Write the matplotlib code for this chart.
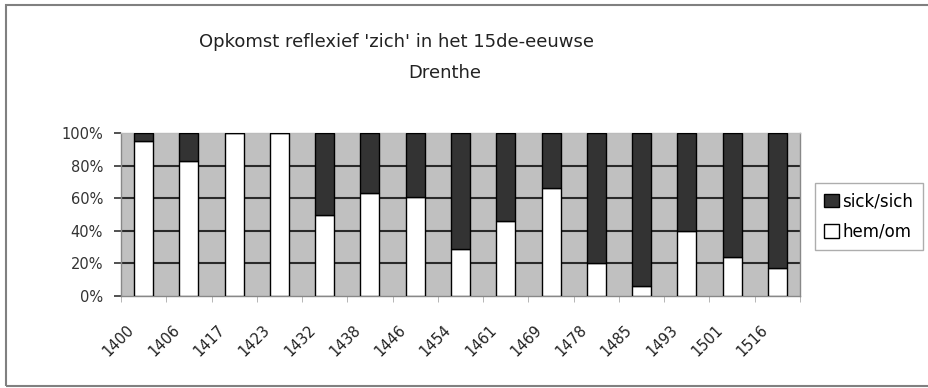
import matplotlib.pyplot as plt
from matplotlib.patches import Rectangle
import matplotlib.transforms as mtransforms
import numpy as np

years = ['1400', '1406', '1417', '1423', '1432', '1438', '1446', '1454',
         '1461', '1469', '1478', '1485', '1493', '1501', '1516']
# share of hem/om per year (percent), rest is sick/sich
hem_om = [95, 83, 100, 100, 50, 63, 61, 29, 46, 66, 20, 6, 40, 24, 17]
sick_sich = [100 - v for v in hem_om]

plt.rcParams['font.family'] = 'DejaVu Sans'

fig = plt.figure(figsize=(9.29, 3.88), dpi=100)
ax = fig.add_axes([121 / 929, 1 - 296 / 388, 679 / 929, 163 / 388])

x = np.arange(len(years))
w = 0.42
b1 = ax.bar(x, hem_om, width=w, color='white', edgecolor='black', linewidth=1.0, zorder=3,
            label='hem/om')
b2 = ax.bar(x, sick_sich, width=w, bottom=hem_om, color='#333333', edgecolor='black',
            linewidth=1.0, zorder=3, label='sick/sich')

ax.set_facecolor('#c0c0c0')
ax.set_xlim(-0.5, len(years) - 0.5)
ax.set_ylim(0, 100)
ax.set_yticks(range(0, 101, 20))
ax.set_yticklabels([f'{v}%' for v in range(0, 101, 20)], fontsize=10.5, color='#333333')
for v in range(20, 100, 20):
    ax.axhline(v, color='#2a2a2a', linewidth=1.5, zorder=1)

ax.set_xticks(x)
ax.set_xticklabels(years, rotation=45, ha='right', rotation_mode='anchor', fontsize=10.5,
                   color='#222222')
ax.tick_params(axis='x', length=0, pad=19)
off = mtransforms.ScaledTranslation(-0.17, 0, fig.dpi_scale_trans)
for lab in ax.get_xticklabels():
    lab.set_transform(lab.get_transform() + off)
ax.set_xticks(np.arange(-0.5, len(years), 1.0), minor=True)
ax.tick_params(axis='x', which='minor', length=4, color='#aaaaaa')
ax.tick_params(axis='y', length=5, width=1.2, color='#333333', pad=8)

for s in ax.spines.values():
    s.set_color('#888888')
    s.set_linewidth(1.0)
ax.spines['top'].set_color('#bbbbbb')

fig.text(397 / 929, 1 - 42 / 388, "Opkomst reflexief 'zich' in het 15de-eeuwse",
         ha='center', va='center', fontsize=13, color='#222222')
fig.text(445 / 929, 1 - 73 / 388, 'Drenthe', ha='center', va='center', fontsize=13,
         color='#222222')

leg = fig.legend([b2, b1], ['sick/sich', 'hem/om'], loc='upper left',
                 bbox_to_anchor=(815 / 929, 1 - 183 / 388), fontsize=12, frameon=True,
                 fancybox=False, handlelength=0.9, handleheight=0.9, handletextpad=0.2,
                 borderpad=0.55, labelspacing=0.75, borderaxespad=0)
leg.get_frame().set_edgecolor('#999999')
leg.get_frame().set_linewidth(1.0)

# outer chart frame
fig.patches.append(Rectangle((6 / 929, 2 / 388), 1.0, 381 / 388, transform=fig.transFigure,
                             fill=False, edgecolor='#808080', linewidth=1.5))

fig.savefig('out.png', dpi=100)
